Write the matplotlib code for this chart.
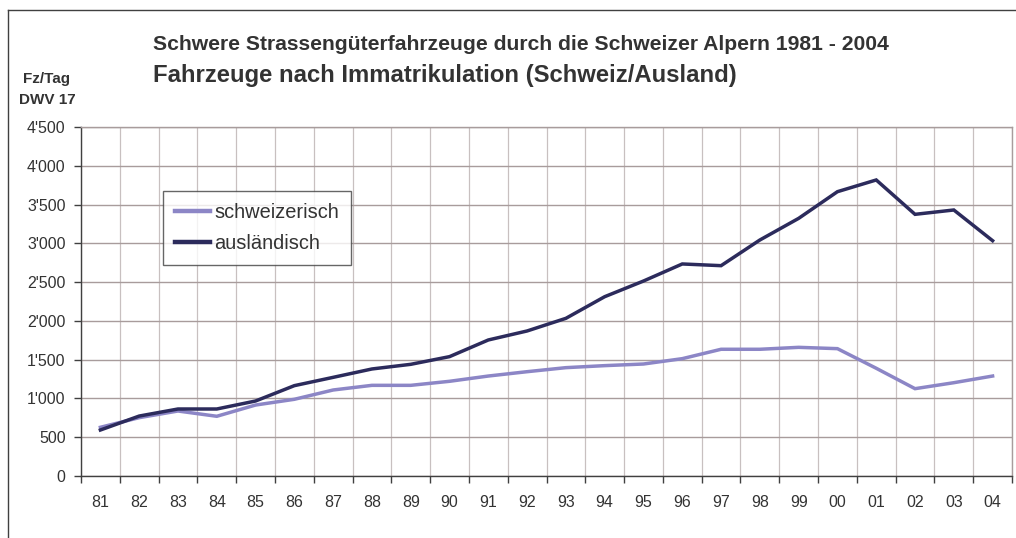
import matplotlib
matplotlib.use("Agg")
import matplotlib.pyplot as plt
from matplotlib.ticker import FuncFormatter, FixedLocator
import numpy as np

years = ["81", "82", "83", "84", "85", "86", "87", "88", "89", "90", "91", "92",
         "93", "94", "95", "96", "97", "98", "99", "00", "01", "02", "03", "04"]
schweizerisch = [628, 752, 838, 770, 915, 989, 1109, 1169, 1169, 1221, 1289, 1345,
                 1397, 1423, 1444, 1513, 1634, 1634, 1659, 1642, 1389, 1126, 1203, 1289]
auslaendisch = [593, 773, 864, 864, 967, 1165, 1272, 1380, 1440, 1539, 1754, 1870,
                2033, 2312, 2514, 2734, 2712, 3043, 3322, 3666, 3817, 3374, 3430, 3034]
yticks = [0, 500, 1000, 1500, 2000, 2500, 3000, 3500, 4000, 4500]

plt.rcParams['font.family'] = ['Liberation Sans', 'DejaVu Sans']

fig = plt.figure(figsize=(10.16, 5.38), dpi=100)
W, H = 1016, 538
ax = fig.add_axes([81 / W, 1 - 476 / H, (1012 - 81) / W, (476 - 127) / H])

n = len(years)
x = np.arange(n) + 0.5
ax.plot(x, schweizerisch, color='#8c86c6', lw=2.5, solid_joinstyle='miter', label='schweizerisch', zorder=3)
ax.plot(x, auslaendisch, color='#2c2b5c', lw=2.5, solid_joinstyle='miter', label='ausländisch', zorder=4)

ax.set_xlim(0, n)
ax.set_ylim(0, 4500)

ax.xaxis.set_major_locator(FixedLocator(np.arange(0, n + 1)))
ax.xaxis.set_major_formatter(FuncFormatter(lambda v, p: ""))
ax.set_xticks(x, minor=True)
ax.set_xticklabels(years, minor=True)
ax.tick_params(axis='x', which='minor', length=0, pad=14, labelsize=11.5, labelcolor='#333333')
ax.tick_params(axis='x', which='major', length=5, width=1, color='#404040', direction='out')

ax.set_yticks(yticks)
ax.yaxis.set_major_formatter(FuncFormatter(lambda v, p: f"{int(v):,}".replace(",", "'")))
ax.tick_params(axis='y', length=5, width=1, color='#404040', direction='out', pad=6,
               labelsize=11.5, labelcolor='#333333')

ax.grid(axis='x', which='major', color='#c8c0c0', lw=0.9, zorder=0)
ax.grid(axis='y', which='major', color='#a89c9c', lw=1.0, zorder=0)
ax.set_axisbelow(True)

for s in ['top', 'right']:
    ax.spines[s].set_color('#a89c9c')
    ax.spines[s].set_linewidth(1.0)
for s in ['left', 'bottom']:
    ax.spines[s].set_color('#404040')
    ax.spines[s].set_linewidth(1.0)

leg = ax.legend(loc='upper left', bbox_to_anchor=((163 - 81) / (1012 - 81), 1 - (191 - 127) / (476 - 127)),
                frameon=True, fancybox=False, edgecolor='#404040', fontsize=14.4,
                handlelength=1.75, handletextpad=0.2, borderpad=0.6, labelspacing=0.62,
                borderaxespad=0)
leg.get_frame().set_linewidth(1.0)
for h in leg.get_lines():
    h.set_linewidth(3.2)
for t in leg.get_texts():
    t.set_color('#333333')

fig.text(153 / W, 1 - 44 / H, "Schwere Strassengüterfahrzeuge durch die Schweizer Alpern 1981 - 2004",
         fontsize=15.2, fontweight='bold', color='#333333', ha='left', va='center')
fig.text(153 / W, 1 - 75 / H, "Fahrzeuge nach Immatrikulation (Schweiz/Ausland)",
         fontsize=17.2, fontweight='bold', color='#333333', ha='left', va='center')
fig.text(47 / W, 1 - 79 / H, "Fz/Tag", fontsize=11, fontweight='bold', color='#333333', ha='center', va='center')
fig.text(47 / W, 1 - 100 / H, "DWV 17", fontsize=11, fontweight='bold', color='#333333', ha='center', va='center')

# outer frame (top and left edges visible)
fig.add_artist(plt.Line2D([8 / W, 1.0], [1 - 10 / H, 1 - 10 / H], color='#404040', lw=1.0))
fig.add_artist(plt.Line2D([8 / W, 8 / W], [0, 1 - 10 / H], color='#404040', lw=1.0))

fig.savefig("out.png", dpi=100)
